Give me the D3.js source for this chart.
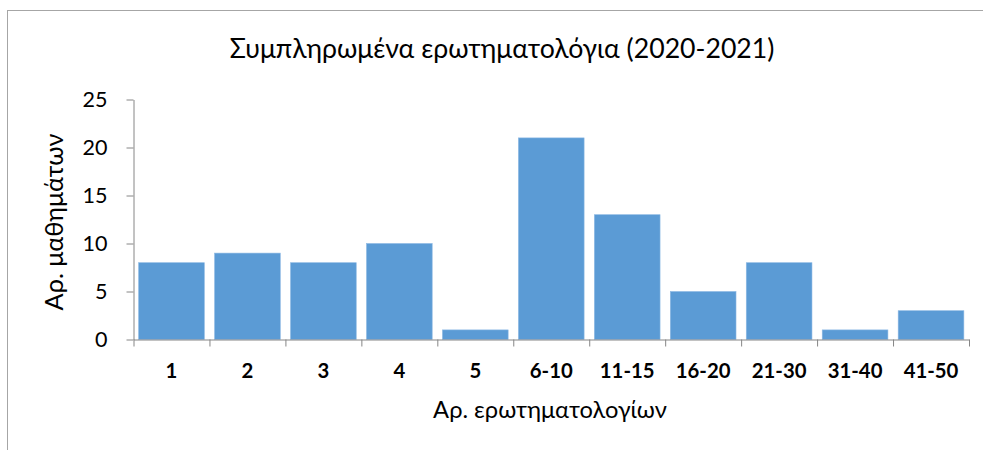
<!DOCTYPE html>
<html>
<head>
<meta charset="utf-8">
<script src="https://cdn.jsdelivr.net/npm/d3@7"></script>
<style>
  html, body { margin: 0; padding: 0; background: #fff; }
  svg { display: block; }
  text { font-family: Lato, "Open Sans", sans-serif; fill: #000; }
</style>
</head>
<body>
<svg id="chart" width="983" height="450"></svg>
<script>
const categories = ["1", "2", "3", "4", "5", "6-10", "11-15", "16-20", "21-30", "31-40", "41-50"];
const values = [8, 9, 8, 10, 1, 21, 13, 5, 8, 1, 3];
const yTicks = [0, 5, 10, 15, 20, 25];
const titleText = "Συμπληρωμένα ερωτηματολόγια (2020-2021)";
const xTitleText = "Αρ. ερωτηματολογίων";
const yTitleText = "Αρ. μαθημάτων";

(function () {
const W = 983, H = 450;
const svg = d3.select("#chart");
svg.append("rect").attr("width", W).attr("height", H).attr("fill", "#fff");

// chart border (cropped at right and bottom)
svg.append("rect")
  .attr("x", 7.5).attr("y", 10.5).attr("width", 1100).attr("height", 600)
  .attr("fill", "none").attr("stroke", "#a6a6a6").attr("stroke-width", 1);

const pLeft = 133.5, pRight = 969, pTop = 99.5, pBottom = 339.5;

const x = d3.scaleBand().domain(categories).range([pLeft, pRight])
  .paddingInner(0.135).paddingOuter(0.0675);
const xEdge = d3.scaleLinear().domain([0, categories.length]).range([pLeft, pRight]);
const y = d3.scaleLinear().domain([0, 25]).range([pBottom, pTop]);

function fit(sel, target) {
  sel.attr("font-size", 20);
  const len = sel.node().getComputedTextLength();
  sel.attr("font-size", 20 * target / len);
}

// bars
svg.append("g").selectAll("rect").data(values).join("rect")
  .attr("x", (d, i) => x(categories[i]))
  .attr("y", d => y(d))
  .attr("width", x.bandwidth())
  .attr("height", d => y(0) - y(d))
  .attr("fill", "#5b9bd5")
  .attr("stroke", "#8cb8e3").attr("stroke-width", 0.6);

// y axis
const yAxis = svg.append("g").attr("transform", `translate(${pLeft},0)`)
  .call(d3.axisLeft(y).tickValues(yTicks).tickSize(7).tickSizeOuter(0).tickPadding(19));
yAxis.selectAll("path, line").attr("stroke", "#868686");
yAxis.selectAll("text").attr("font-family", "Lato, \"Open Sans\", sans-serif").attr("fill", "#000");
const y25 = yAxis.selectAll("text").filter(d => d === 25);
fit(y25, 25);
yAxis.selectAll("text").attr("font-size", y25.attr("font-size"));

// x axis: line + ticks at category boundaries
const xAxis = svg.append("g").attr("transform", `translate(0,${pBottom})`)
  .call(d3.axisBottom(xEdge).tickValues(d3.range(categories.length + 1)).tickSize(7).tickSizeOuter(0).tickFormat(""));
xAxis.selectAll("path, line").attr("stroke", "#868686");

// x tick labels at band centers
const xl = svg.append("g").selectAll("text").data(categories).join("text")
  .attr("x", d => x(d) + x.bandwidth() / 2)
  .attr("y", 378)
  .attr("text-anchor", "middle")
  .attr("font-weight", "bold")
  .text(d => d);
const x610 = xl.filter(d => d === "6-10");
fit(x610, 43);
xl.attr("font-size", x610.attr("font-size"));

// title
const t = svg.append("text").attr("x", 502).attr("y", 58).attr("text-anchor", "middle").text(titleText);
fit(t, 545);

// x title
const xt = svg.append("text").attr("x", 550).attr("y", 418).attr("text-anchor", "middle").text(xTitleText);
fit(xt, 234);

// y title
const yt = svg.append("text").attr("transform", "translate(63,222) rotate(-90)").attr("text-anchor", "middle").text(yTitleText);
fit(yt, 177);
})();
</script>
</body>
</html>
